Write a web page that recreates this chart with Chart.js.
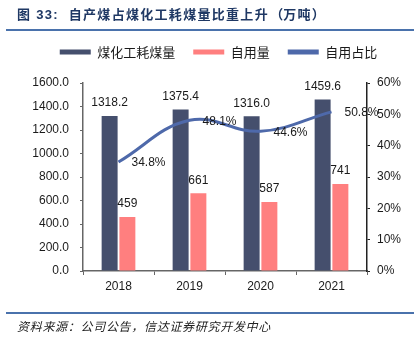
<!DOCTYPE html>
<html><head><meta charset="utf-8">
<script src="https://cdn.jsdelivr.net/npm/chart.js@4.4.0/dist/chart.umd.min.js"></script>
<style>
html,body{margin:0;padding:0;background:#fff;width:420px;height:348px;overflow:hidden;}
#wrap{position:relative;width:420px;height:348px;}
#c{position:absolute;left:0;top:0;}
.title{position:absolute;left:17px;top:6px;line-height:16px;font-weight:bold;font-size:13px;font-family:"Noto Sans CJK SC",sans-serif;letter-spacing:1.3px;color:#1F3864;white-space:nowrap;}
.title .num{font-family:"Liberation Sans",Arial,sans-serif;}
.title .po{display:inline-block;width:14.3px;text-align:right;letter-spacing:0;}
.title .pc{display:inline-block;width:14.3px;text-align:left;letter-spacing:0;}
.rule{position:absolute;left:6px;width:408px;background:#4A72AC;}
.src{position:absolute;left:17px;top:318px;line-height:16px;font-style:italic;font-size:12px;font-family:"Noto Sans CJK SC",sans-serif;color:#222;letter-spacing:0.7px;white-space:nowrap;}
</style></head>
<body>
<div id="wrap">
<canvas id="c" width="420" height="348"></canvas>
<div class="title">图<span class="num"> 33:&nbsp; </span>自产煤占煤化工耗煤量比重上升<span class="po">（</span>万吨<span class="pc">）</span></div>
<div class="rule" style="top:29px;height:1.5px;"></div>
<div class="rule" style="top:312px;height:2px;"></div>
<div class="src">资料来源：公司公告，信达证券研究开发中心</div>
</div>
<script>
const categories = ['2018', '2019', '2020', '2021'];
const seriesNames = ['煤化工耗煤量', '自用量', '自用占比'];
const coalUse = [1318.2, 1375.4, 1316.0, 1459.6];
const selfUse = [459, 661, 587, 741];
const selfRatio = [34.8, 48.1, 44.6, 50.8];
const leftMax = 1600, leftStep = 200;
const rightMax = 60, rightStep = 10;

const FONT = '"Liberation Sans", Arial, sans-serif';
const formatters = [v => v.toFixed(1), v => String(v), v => v.toFixed(1) + '%'];

const valueLabels = {
  id: 'valueLabels',
  afterDatasetsDraw(chart) {
    const ctx = chart.ctx;
    ctx.save();
    ctx.font = '12px ' + FONT;
    ctx.fillStyle = '#1a1a1a';
    ctx.textBaseline = 'middle';
    chart.data.datasets.forEach((ds, i) => {
      const meta = chart.getDatasetMeta(i);
      meta.data.forEach((el, j) => {
        const txt = formatters[i](ds.data[j]);
        if (ds.type === 'line') {
          ctx.textAlign = 'left';
          ctx.fillText(txt, el.x + 13, el.y + 1);
        } else {
          ctx.textAlign = 'center';
          ctx.fillText(txt, el.x, el.y - 13);
        }
      });
    });
    ctx.restore();
  }
};

const legendSpacer = {
  id: 'legendSpacer',
  beforeLayout(chart) {
    const lg = chart.legend;
    if (lg && !lg._spaced) {
      const fit = lg.fit;
      lg.fit = function () { fit.call(this); this.height += 14.5; };
      lg._spaced = true;
    }
  }
};

new Chart(document.getElementById('c'), {
  data: {
    labels: categories,
    datasets: [
      { type: 'bar', label: seriesNames[0], data: coalUse, backgroundColor: '#454F6D', yAxisID: 'y', order: 1,
        categoryPercentage: 0.5, barPercentage: 0.9 },
      { type: 'bar', label: seriesNames[1], data: selfUse, backgroundColor: '#FF7F7F', yAxisID: 'y', order: 1,
        categoryPercentage: 0.5, barPercentage: 0.9 },
      { type: 'line', label: seriesNames[2], data: selfRatio, borderColor: '#4E69AA', backgroundColor: '#4E69AA',
        borderWidth: 3, pointRadius: 0, tension: 0.4, yAxisID: 'y1', order: 0, fill: false }
    ]
  },
  options: {
    responsive: false,
    animation: false,
    devicePixelRatio: 1,
    layout: { padding: { left: 31, right: 14, top: 27.5, bottom: 47 } },
    plugins: {
      tooltip: { enabled: false },
      legend: {
        position: 'top',
        labels: {
          boxWidth: 31, boxHeight: 5, padding: 18,
          font: { size: 13, family: '"Noto Sans CJK SC", sans-serif' },
          color: '#1a1a1a',
          generateLabels(chart) {
            return chart.data.datasets.map((ds, i) => ({
              text: ds.label,
              fillStyle: ds.type === 'line' ? ds.borderColor : ds.backgroundColor,
              strokeStyle: 'rgba(0,0,0,0)', lineWidth: 0, hidden: false, datasetIndex: i, fontColor: '#1a1a1a'
            }));
          }
        }
      }
    },
    scales: {
      x: {
        offset: true,
        grid: { display: true, drawOnChartArea: false, drawTicks: true, tickLength: 4, color: '#666', offset: true },
        border: { color: '#666', width: 1.5 },
        ticks: { font: { size: 12, family: FONT }, color: '#1a1a1a', padding: 4 },
        afterFit(s) { s.height = 30; }
      },
      y: {
        position: 'left', min: 0, max: leftMax,
        ticks: { stepSize: leftStep, callback: v => v.toFixed(1), padding: 11, font: { size: 12, family: FONT }, color: '#1a1a1a' },
        grid: { drawOnChartArea: false, tickLength: 3, color: '#666' },
        border: { color: '#666', width: 1.5 },
        afterFit(s) { s.width = 52; }
      },
      y1: {
        position: 'right', min: 0, max: rightMax,
        ticks: { stepSize: rightStep, callback: v => v + '%', padding: 7, font: { size: 12, family: FONT }, color: '#1a1a1a' },
        grid: { drawOnChartArea: false, tickLength: 3, color: '#222' },
        border: { color: '#222', width: 1.5 },
        afterFit(s) { s.width = 39; }
      }
    }
  },
  plugins: [valueLabels, legendSpacer]
});
</script>
</body></html>
